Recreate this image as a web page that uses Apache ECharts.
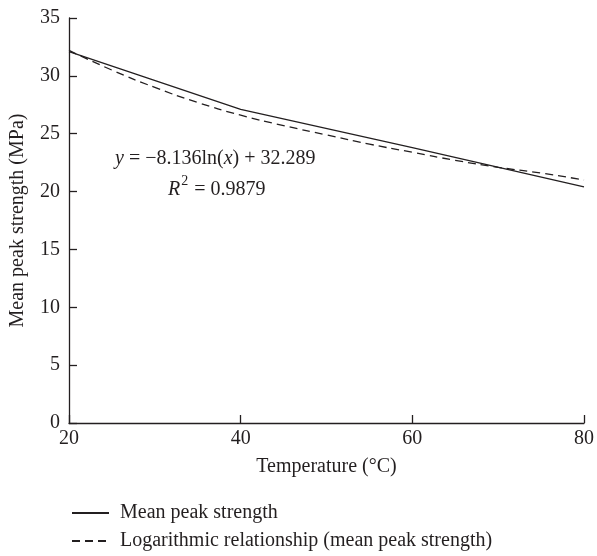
<!DOCTYPE html>
<html>
<head>
<meta charset="utf-8">
<script src="https://cdn.jsdelivr.net/npm/echarts@6/dist/echarts.min.js"></script>
<style>
  html, body { margin: 0; padding: 0; background: #fff; }
  #chart { width: 597px; height: 556px; }
</style>
</head>
<body>
<div id="chart"></div>
<script>
const temps = [20, 40, 60, 80];
const meanPeak = [32.1, 27.1, 23.8, 20.4];

// logarithmic trend line
const fitTemps = [20, 25, 30, 35, 40, 45, 50, 55, 60, 65, 70, 75, 80];
const fitValues = [32.2, 30.5, 29.0, 27.7, 26.6, 25.7, 24.9, 24.1, 23.4, 22.7, 22.1, 21.6, 21.0];

const xTicks = [20, 40, 60, 80];
const yTicks = [0, 5, 10, 15, 20, 25, 30, 35];

const seriesNames = ["Mean peak strength", "Logarithmic relationship (mean peak strength)"];

const ink = "#231f20";
const font = "'Liberation Serif', 'DejaVu Serif', serif";
const fs = 20;

const chart = echarts.init(document.getElementById("chart"));

function legendAt(name, top) {
	return {
		orient: "horizontal",
		left: 66,
		top: top,
		itemWidth: 37,
		itemHeight: 14,
		itemStyle: { opacity: 0 },
		textStyle: { fontFamily: font, fontSize: fs, color: ink, padding: [0, 0, 0, 6] },
		data: [name]
	};
}

chart.setOption({
	animation: false,
	backgroundColor: "#fff",
	textStyle: { fontFamily: font, color: ink },
	grid: { left: 69, right: 11, top: 18, bottom: 133, containLabel: false },
	legend: [legendAt(seriesNames[0], 498), legendAt(seriesNames[1], 526)],
	xAxis: {
		type: "value",
		min: xTicks[0],
		max: xTicks[xTicks.length - 1],
		interval: 20,
		name: "Temperature (°C)",
		nameLocation: "middle",
		nameGap: 34,
		nameTextStyle: { fontFamily: font, fontSize: fs, color: ink },
		axisLine: { lineStyle: { color: ink, width: 1.3 } },
		axisTick: { inside: true, length: 8, lineStyle: { color: ink, width: 1.3 } },
		axisLabel: { fontFamily: font, fontSize: fs, color: ink, margin: 6 },
		splitLine: { show: false }
	},
	yAxis: {
		type: "value",
		min: yTicks[0],
		max: yTicks[yTicks.length - 1],
		interval: 5,
		name: "Mean peak strength (MPa)",
		nameLocation: "middle",
		nameGap: 41,
		nameTextStyle: { fontFamily: font, fontSize: fs, color: ink },
		axisLine: { show: true, lineStyle: { color: ink, width: 1.3 } },
		axisTick: { show: true, inside: true, length: 8, lineStyle: { color: ink, width: 1.3 } },
		axisLabel: { fontFamily: font, fontSize: fs, color: ink, margin: 9 },
		splitLine: { show: false }
	},
	series: [
		{
			name: seriesNames[0],
			type: "line",
			symbol: "none",
			data: temps.map((t, i) => [t, meanPeak[i]]),
			lineStyle: { color: ink, width: 1.3, type: "solid" },
			itemStyle: { color: ink }
		},
		{
			name: seriesNames[1],
			type: "line",
			symbol: "none",
			smooth: true,
			data: fitTemps.map((t, i) => [t, fitValues[i]]),
			lineStyle: { color: ink, width: 1.3, type: [8, 5] },
			itemStyle: { color: ink }
		}
	],
	graphic: [
		{
			type: "text",
			left: 115,
			top: 149,
			style: {
				text: "{i|y} = −8.136ln({i|x}) + 32.289",
				fontFamily: font,
				fontSize: fs,
				fill: ink,
				rich: {
					i: { fontFamily: font, fontSize: fs, fontStyle: "italic", color: ink }
				}
			}
		},
		{
			type: "text",
			left: 168,
			top: 174,
			style: {
				text: "{i|R}{sup|2}{n| = 0.9879}",
				fontFamily: font,
				fontSize: fs,
				fill: ink,
				rich: {
					i: { fontFamily: font, fontSize: fs, fontStyle: "italic", color: ink, lineHeight: 26, verticalAlign: "bottom" },
					sup: { fontFamily: font, fontSize: 14, color: ink, lineHeight: 14, verticalAlign: "top", padding: [0, 1, 0, 1] },
					n: { fontFamily: font, fontSize: fs, color: ink, lineHeight: 26, verticalAlign: "bottom" }
				}
			}
		}
	]
});
</script>
</body>
</html>
